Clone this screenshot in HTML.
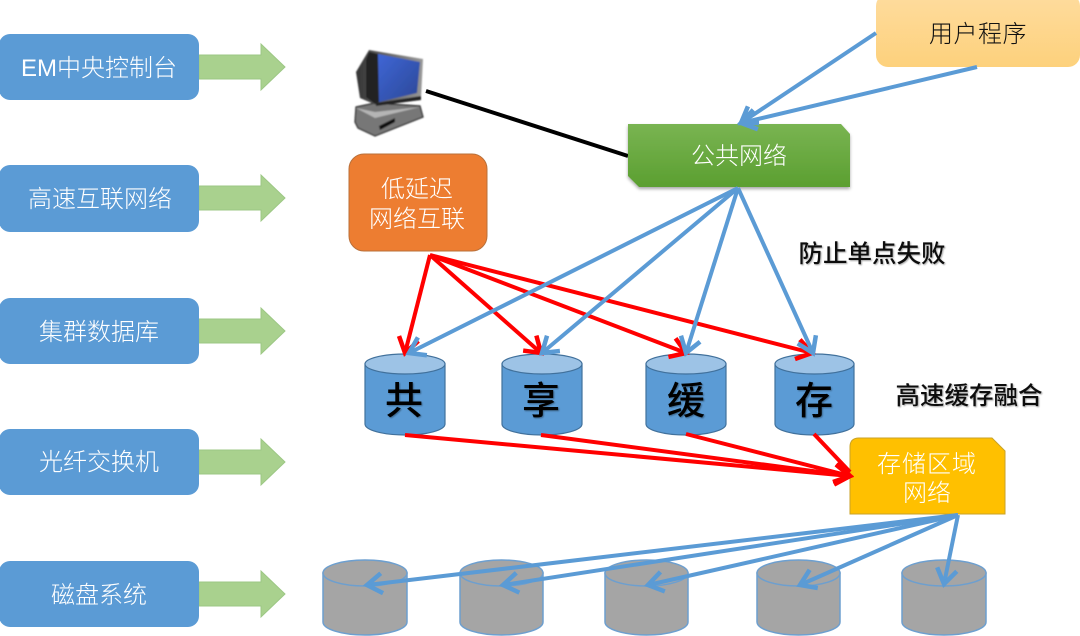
<!DOCTYPE html>
<html lang="zh">
<head>
<meta charset="utf-8">
<title>存储架构图</title>
<style>
html,body{margin:0;padding:0;background:#fff;}
body{width:1080px;height:636px;overflow:hidden;}
svg{display:block;}
text{font-family:"Liberation Sans","Noto Sans CJK SC",sans-serif;text-anchor:middle;}
.w{fill:#fff;font-size:24px;font-weight:300;}
.big{fill:#000;font-size:38px;font-weight:500;}
.note{fill:#111;font-size:24.500px;font-weight:500;}
</style>
</head>
<body>
<svg width="1080" height="636" viewBox="0 0 1080 636" xmlns="http://www.w3.org/2000/svg">
<defs>
<linearGradient id="g" x1="0" y1="0" x2="0" y2="1"><stop offset="0" stop-color="#79b452"/><stop offset="1" stop-color="#5b9f30"/></linearGradient>
<linearGradient id="o" x1="0" y1="0" x2="0" y2="1"><stop offset="0" stop-color="#fedc9e"/><stop offset="1" stop-color="#fdd17c"/></linearGradient>
<linearGradient id="scr" x1="0" y1="0" x2="1" y2="1"><stop offset="0" stop-color="#3f66d6"/><stop offset="1" stop-color="#2b4796"/></linearGradient>
<linearGradient id="bez" x1="0" y1="0" x2="1" y2="0"><stop offset="0" stop-color="#333"/><stop offset="0.3" stop-color="#555"/><stop offset="1" stop-color="#999"/></linearGradient>
<filter id="sh" x="-5%" y="-5%" width="110%" height="120%"><feDropShadow dx="0" dy="2" stdDeviation="1.500" flood-color="#000" flood-opacity="0.35"/></filter>
<filter id="ts" x="-5%" y="-10%" width="110%" height="125%"><feDropShadow dx="1" dy="1" stdDeviation="0.800" flood-color="#000" flood-opacity="0.35"/></filter>
<filter id="blur"><feGaussianBlur stdDeviation="0.700"/></filter>
<marker id="ab" markerUnits="userSpaceOnUse" markerWidth="30" markerHeight="30" refX="25" refY="15" orient="auto" viewBox="0 0 30 30"><path d="M10 5 L25 15 L10 25" fill="none" stroke="#5b9bd5" stroke-width="4.500"/></marker>
<marker id="ar" markerUnits="userSpaceOnUse" markerWidth="30" markerHeight="30" refX="25" refY="15" orient="auto" viewBox="0 0 30 30"><path d="M10 5 L25 15 L10 25" fill="none" stroke="#ff0000" stroke-width="4.500"/></marker>
</defs>

<!-- left rows -->
<g fill="#a9d18e" stroke="#9cc784" stroke-width="1">
<polygon points="199,55 261,55 261,44 285,67 261,90 261,79 199,79"/>
<polygon points="199,186 261,186 261,175 285,198 261,221 261,210 199,210"/>
<polygon points="199,319 261,319 261,308 285,331 261,354 261,343 199,343"/>
<polygon points="199,450 261,450 261,439 285,462 261,485 261,474 199,474"/>
<polygon points="199,582 261,582 261,571 285,594 261,617 261,606 199,606"/>
</g>
<g fill="#5b9bd5">
<rect x="-1" y="34" width="200" height="66" rx="11"/>
<rect x="-1" y="165" width="200" height="67" rx="11"/>
<rect x="-1" y="298" width="200" height="66" rx="11"/>
<rect x="-1" y="429" width="200" height="66" rx="11"/>
<rect x="-1" y="561" width="200" height="66" rx="11"/>
</g>
<text class="w" x="99" y="76">EM中央控制台</text>
<text class="w" x="100" y="207">高速互联网络</text>
<text class="w" x="99" y="340">集群数据库</text>
<text class="w" x="99" y="470">光纤交换机</text>
<text class="w" x="99" y="603">磁盘系统</text>

<!-- computer -->
<g filter="url(#blur)">
<polygon points="356,107 375,103 420,106 423,117 375,136 358,128 355,122" fill="#777" stroke="#222" stroke-width="1.200"/>
<polygon points="356,108 375,112 420,107 375,118" fill="#b5b5b5"/>
<polygon points="379,126 395,118 395,122 380,130" fill="#111"/>
<polygon points="356,72 369,50 423,59 421,98 376,105 360,98" fill="url(#bez)"/>
<polygon points="369,52 378,54 379,102 375,104 366,97 366,60" fill="#222"/>
<polygon points="378,54 420,62 417,93 379,102" fill="url(#scr)"/>
<polygon points="376,103 421,96 421,100 376,106" fill="#222"/>
</g>
<line x1="426" y1="91" x2="628" y2="156" stroke="#000" stroke-width="4"/>

<!-- user program -->
<rect x="876" y="-6" width="204" height="73" rx="12" fill="url(#o)"/>
<text x="978" y="42" fill="#111" font-size="24" font-weight="300" letter-spacing="0.500">用户程序</text>

<!-- public net -->
<polygon points="628,124 841,124 850,134 850,187 639,187 628,176" fill="url(#g)" filter="url(#sh)"/>
<text class="w" x="739" y="164">公共网络</text>

<!-- low latency -->
<rect x="349" y="154" width="138" height="97" rx="15" fill="#ed7d31" stroke="#b9703a" stroke-width="1"/>
<text class="w" x="417" y="197">低延迟</text>
<text class="w" x="417" y="227">网络互联</text>

<!-- notes -->
<text class="note" x="872" y="262" filter="url(#ts)">防止单点失败</text>
<text class="note" x="969" y="404" filter="url(#ts)">高速缓存融合</text>

<!-- blue cylinders -->
<g stroke="#41719c" stroke-width="1.200">
<path d="M365 364 V424 A40 11 0 0 0 445 424 V364 Z" fill="#5b9bd5"/><ellipse cx="405" cy="364" rx="40" ry="10" fill="#9dc3e6"/>
<path d="M502 364 V424 A40 11 0 0 0 582 424 V364 Z" fill="#5b9bd5"/><ellipse cx="542" cy="364" rx="40" ry="10" fill="#9dc3e6"/>
<path d="M646 364 V424 A40 11 0 0 0 726 424 V364 Z" fill="#5b9bd5"/><ellipse cx="686" cy="364" rx="40" ry="10" fill="#9dc3e6"/>
<path d="M775 364 V424 A39.500 11 0 0 0 854 424 V364 Z" fill="#5b9bd5"/><ellipse cx="814.500" cy="364" rx="39.500" ry="10" fill="#9dc3e6"/>
</g>
<g filter="url(#ts)">
<text class="big" x="404" y="414">共</text>
<text class="big" x="541" y="414">享</text>
<text class="big" x="686" y="414">缓</text>
<text class="big" x="814" y="414">存</text>
</g>

<!-- gray cylinders -->
<g stroke="#6d9fcf" stroke-width="1.500" fill="#a5a5a5">
<path d="M323 573 V622 A42 13 0 0 0 407 622 V573 Z"/><ellipse cx="365" cy="573" rx="42" ry="13"/>
<path d="M460 573 V622 A41.500 13 0 0 0 543 622 V573 Z"/><ellipse cx="501.500" cy="573" rx="41.500" ry="13"/>
<path d="M605 573 V622 A41.500 13 0 0 0 688 622 V573 Z"/><ellipse cx="646.500" cy="573" rx="41.500" ry="13"/>
<path d="M757 573 V622 A41.500 13 0 0 0 840 622 V573 Z"/><ellipse cx="798.500" cy="573" rx="41.500" ry="13"/>
<path d="M902 573 V622 A42 13 0 0 0 986 622 V573 Z"/><ellipse cx="944" cy="573" rx="42" ry="13"/>
</g>

<!-- storage net -->
<path d="M850 447 Q850 438 859 438 L992 438 L1005 451 L1005 514 L850 514 Z" fill="#ffc000" stroke="#c9a227" stroke-width="1"/>
<text class="w" x="927" y="472" letter-spacing="1">存储区域</text>
<text class="w" x="927" y="501">网络</text>

<!-- red arrows -->
<g stroke="#ff0000" stroke-width="4" fill="none">
<line x1="430" y1="255" x2="405" y2="353" marker-end="url(#ar)"/>
<line x1="430" y1="255" x2="541" y2="353" marker-end="url(#ar)"/>
<line x1="430" y1="255" x2="686" y2="353" marker-end="url(#ar)"/>
<line x1="430" y1="255" x2="812" y2="353" marker-end="url(#ar)"/>
<line x1="405" y1="435" x2="850" y2="476" marker-end="url(#ar)"/>
<line x1="541" y1="435" x2="850" y2="476" marker-end="url(#ar)"/>
<line x1="686" y1="434" x2="850" y2="476" marker-end="url(#ar)"/>
<line x1="814" y1="434" x2="850" y2="472"/>
</g>

<!-- blue arrows -->
<g stroke="#5b9bd5" stroke-width="4" fill="none">
<line x1="876" y1="33" x2="741" y2="123" marker-end="url(#ab)"/>
<line x1="977" y1="67" x2="741" y2="123" marker-end="url(#ab)"/>
<line x1="738" y1="188" x2="409" y2="353" marker-end="url(#ab)"/>
<line x1="738" y1="188" x2="542" y2="353" marker-end="url(#ab)"/>
<line x1="738" y1="188" x2="686" y2="353" marker-end="url(#ab)"/>
<line x1="738" y1="188" x2="813" y2="353" marker-end="url(#ab)"/>
<line x1="958" y1="515" x2="367" y2="585" marker-end="url(#ab)"/>
<line x1="958" y1="515" x2="503" y2="585" marker-end="url(#ab)"/>
<line x1="958" y1="515" x2="648" y2="585" marker-end="url(#ab)"/>
<line x1="958" y1="515" x2="800" y2="585" marker-end="url(#ab)"/>
<line x1="958" y1="515" x2="944" y2="584" marker-end="url(#ab)"/>
</g>
</svg>
</body>
</html>
